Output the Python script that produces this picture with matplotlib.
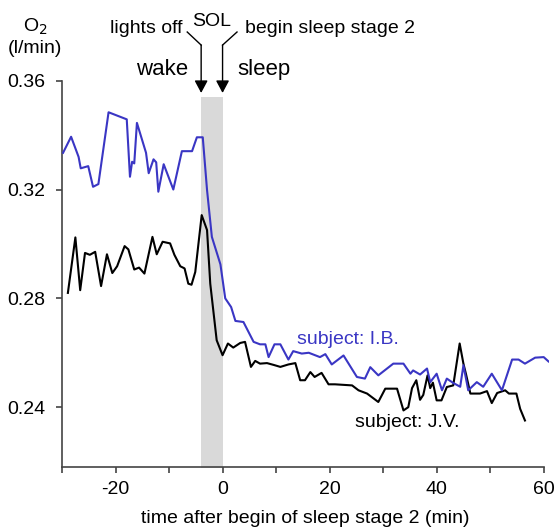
import numpy as np
import matplotlib
matplotlib.use("Agg")
import matplotlib.pyplot as plt

plt.rcParams['font.family'] = ['Liberation Sans', 'DejaVu Sans']

# oxygen uptake (l/min) vs. time after begin of sleep stage 2 (min)
t_ib = [-29.8, -28.3, -26.9, -26.5, -25.1, -24.2, -23.2, -21.3, -17.9, -17.3,
        -16.9, -16.5, -16.0, -14.3, -13.8, -12.9, -12.4, -12.0, -11.0, -9.2,
        -7.6, -5.7, -4.8, -3.7, -2.9, -2.0, -0.4, 0.5, 1.6, 2.4,
        3.9, 5.8, 7.0, 8.0, 8.6, 9.7, 10.8, 12.3, 13.2, 14.8,
        16.1, 18.2, 19.2, 20.4, 22.6, 25.1, 26.6, 27.6, 29.1, 31.9,
        33.8, 35.1, 35.6, 36.9, 38.2, 38.8, 40.0, 41.0, 41.9, 43.1,
        44.4, 45.0, 45.9, 47.5, 48.7, 50.3, 52.2, 54.1, 55.3, 56.5,
        58.4, 60.0, 60.9]
o2_ib = [0.3335, 0.3394, 0.3320, 0.3278, 0.3286, 0.3210, 0.3220, 0.3484, 0.3458, 0.3247,
         0.3302, 0.3296, 0.3445, 0.3335, 0.3260, 0.3311, 0.3300, 0.3192, 0.3293, 0.3200,
         0.3341, 0.3341, 0.3392, 0.3392, 0.3198, 0.3026, 0.2925, 0.2800, 0.2768, 0.2717,
         0.2713, 0.2640, 0.2631, 0.2631, 0.2584, 0.2631, 0.2631, 0.2575, 0.2606, 0.2597,
         0.2600, 0.2584, 0.2595, 0.2557, 0.2590, 0.2511, 0.2505, 0.2547, 0.2517, 0.2560,
         0.2560, 0.2523, 0.2535, 0.2520, 0.2542, 0.2492, 0.2523, 0.2462, 0.2505, 0.2489,
         0.2475, 0.2554, 0.2462, 0.2492, 0.2475, 0.2523, 0.2462, 0.2575, 0.2575, 0.2560,
         0.2582, 0.2584, 0.2568]

t_jv = [-28.9, -27.5, -26.6, -25.7, -24.8, -23.8, -22.7, -21.6, -20.6, -19.7,
        -18.3, -17.6, -16.5, -15.6, -14.6, -13.1, -12.3, -11.2, -9.8, -9.0,
        -7.9, -7.1, -6.4, -5.8, -5.1, -3.9, -2.9, -2.3, -1.1, 0.0,
        1.0, 2.0, 3.3, 4.2, 5.3, 6.1, 7.0, 8.3, 9.6, 10.8,
        12.3, 13.6, 14.5, 15.4, 16.4, 17.2, 18.5, 19.8, 21.0, 24.2,
        25.4, 27.0, 29.1, 30.4, 31.6, 32.6, 33.8, 34.7, 35.4, 36.2,
        36.9, 37.5, 38.3, 38.8, 39.3, 40.0, 40.9, 41.9, 43.1, 44.3,
        45.0, 45.5, 46.3, 48.1, 49.4, 50.3, 51.3, 52.8, 53.5, 54.9,
        55.6, 56.5]
o2_jv = [0.2820, 0.3024, 0.2830, 0.2967, 0.2960, 0.2971, 0.2845, 0.2962, 0.2893, 0.2918,
         0.2992, 0.2980, 0.2906, 0.2913, 0.2891, 0.3026, 0.2962, 0.3008, 0.3002, 0.2960,
         0.2918, 0.2910, 0.2854, 0.2850, 0.2897, 0.3106, 0.3051, 0.2854, 0.2646, 0.2591,
         0.2634, 0.2619, 0.2636, 0.2640, 0.2548, 0.2570, 0.2560, 0.2562, 0.2555, 0.2548,
         0.2557, 0.2562, 0.2499, 0.2499, 0.2529, 0.2511, 0.2526, 0.2484, 0.2484, 0.2480,
         0.2462, 0.2450, 0.2419, 0.2468, 0.2468, 0.2468, 0.2388, 0.2400, 0.2470, 0.2499,
         0.2427, 0.2445, 0.2517, 0.2470, 0.2490, 0.2425, 0.2425, 0.2474, 0.2480, 0.2634,
         0.2560, 0.2520, 0.2450, 0.2450, 0.2459, 0.2415, 0.2452, 0.2462, 0.2450, 0.2450,
         0.2394, 0.2351]

lights_off = -4.0
sleep_onset = 0.0
x_ticks = [-20, 0, 20, 40, 60]
y_ticks = [0.24, 0.28, 0.32, 0.36]

blue = '#3a36c4'
axis_col = '#444444'

fig = plt.figure(figsize=(5.56, 5.31), dpi=100)
ax = fig.add_axes([0.1115, 0.1205, 0.876, 0.7275])

# sleep onset latency band
ax.fill_between([lights_off, sleep_onset], 0.2, 0.354, color='#d9d9d9', lw=0, zorder=0)

ax.plot(t_ib, o2_ib, color=blue, lw=1.5, zorder=3)
ax.plot(t_jv, o2_jv, color='black', lw=1.5, zorder=2)

ax.set_xlim(-30, 61)
ax.set_ylim(0.218, 0.36)
ax.spines['top'].set_visible(False)
ax.spines['right'].set_visible(False)
ax.spines['bottom'].set_bounds(-30, 60)
for s in ('left', 'bottom'):
    ax.spines[s].set_color(axis_col)
    ax.spines[s].set_linewidth(1.2)

ax.set_xticks(x_ticks)
ax.set_xticklabels([str(v) for v in x_ticks])
ax.set_xticks(np.arange(-30, 61, 20), minor=True)
ax.set_yticks(y_ticks)
ax.set_yticklabels(['%.2f' % v for v in y_ticks])
ax.tick_params(axis='both', which='both', direction='out', length=4,
               width=1.2, color=axis_col, labelsize=14, pad=6)
ax.tick_params(axis='y', pad=8)

ax.set_xlabel('time after begin of sleep stage 2 (min)', fontsize=14, labelpad=9)

fig.text(35 / 556, 1 - 27 / 531, 'O$_2$', ha='center', va='center', fontsize=14)
fig.text(35 / 556, 1 - 48 / 531, '(l/min)', ha='center', va='center', fontsize=14)

# event markers above the plot
y_bend = 0.3731
ax.plot([-6.6, lights_off], [0.3779, y_bend], color='black', lw=1, clip_on=False)
ax.plot([2.7, sleep_onset], [0.3779, y_bend], color='black', lw=1, clip_on=False)
for xa in (lights_off, sleep_onset):
    ax.annotate('', xy=(xa, 0.3555), xytext=(xa, y_bend), annotation_clip=False,
                arrowprops=dict(arrowstyle='-|>,head_length=0.75,head_width=0.4',
                                mutation_scale=10, color='black', lw=1,
                                shrinkA=0, shrinkB=0))

ax.text(-14.3, 0.3791, 'lights off', ha='center', va='center', fontsize=14)
ax.text(-2.1, 0.3818, 'SOL', ha='center', va='center', fontsize=14)
ax.text(4.2, 0.3791, 'begin sleep stage 2', ha='left', va='center', fontsize=14)
ax.text(-6.4, 0.3643, 'wake', ha='right', va='center', fontsize=16)
ax.text(2.8, 0.3643, 'sleep', ha='left', va='center', fontsize=16)

ax.text(13.9, 0.265, 'subject: I.B.', color=blue, ha='left', va='center', fontsize=14)
ax.text(24.7, 0.2344, 'subject: J.V.', color='black', ha='left', va='center', fontsize=14)

fig.savefig('out.png', dpi=100)
